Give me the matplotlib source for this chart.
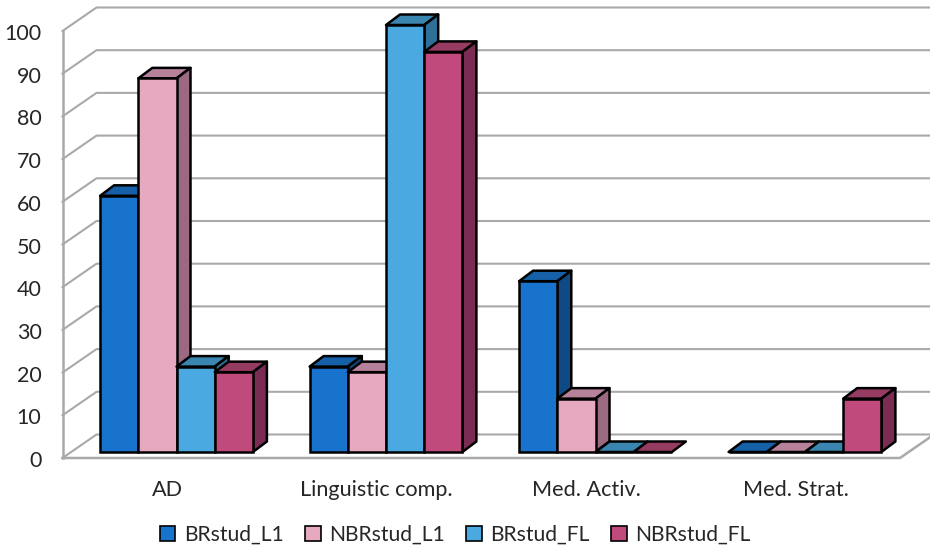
import matplotlib as mpl
mpl.use('Agg')
import matplotlib.pyplot as plt
from matplotlib.patches import Patch

plt.rcParams['font.family'] = ['Lato', 'DejaVu Sans']

categories = ["AD", "Linguistic comp.", "Med. Activ.", "Med. Strat."]
series = ["BRstud_L1", "NBRstud_L1", "BRstud_FL", "NBRstud_FL"]
br_l1 = [60, 20, 40, 0]
nbr_l1 = [87.5, 18.7, 12.5, 0]
br_fl = [20, 100, 0, 0]
nbr_fl = [18.7, 93.7, 0, 12.5]
values = [br_l1, nbr_l1, br_fl, nbr_fl]
y_ticks = list(range(0, 101, 10))

front = ['#1873CC', '#E6A9C0', '#4AA9E0', '#C04A7C']
top = ['#1660A8', '#B5819B', '#3A86B0', '#963B62']
side = ['#0F4A85', '#9B6A80', '#2F7099', '#7A2C52']

W, H = 930, 549
X_UNIT = 209.5   # px per category
Y_UNIT = 4.27    # px per value unit
X0, Y0 = 176.5, 452   # pixel of first group centre / bar base

bar_w = 38.2 / X_UNIT
depth_x, depth_y = 14 / X_UNIT, 10.5 / Y_UNIT
# walls sit a little in front of / behind the bars
front_y = -6 / Y_UNIT
wall_x, wall_y = 34 / X_UNIT, 23.5 / Y_UNIT
grid_c = '#A9A9A9'
text_c = '#262626'

fig = plt.figure(figsize=(W / 100, H / 100), dpi=100)
ax = fig.add_axes([0, 0, 1, 1])
ax.set_xlim(-X0 / X_UNIT, (W - X0) / X_UNIT)
ax.set_ylim((Y0 - H) / Y_UNIT, Y0 / Y_UNIT)
ax.axis('off')

# --------------------------
# Walls and floor
# --------------------------
left = (62.5 - X0) / X_UNIT
right = (900 - X0) / X_UNIT
for v in y_ticks:
    y = v + front_y
    ax.plot([left, left + wall_x, right + wall_x], [y, y + wall_y, y + wall_y],
            color=grid_c, lw=1.5, zorder=1)
    ax.text(left - 21 / X_UNIT, y - 9 / Y_UNIT, str(v), ha='right', va='baseline',
            fontsize=15.5, color=text_c)
ax.plot([left, left], [front_y, 100 + front_y], color=grid_c, lw=1.8, zorder=1)
ax.plot([left, right, right + wall_x], [front_y, front_y, front_y + wall_y],
        color=grid_c, lw=1.8, zorder=1)

# --------------------------
# Bars, left to right so they overlap properly
# --------------------------
for j, vals in enumerate(values):
    offset = (j - 1.5) * bar_w
    xs = [i + offset for i in range(len(categories))]
    for x, v in zip(xs, vals):
        x0, x1 = x - bar_w / 2, x + bar_w / 2
        ax.fill([x0, x0 + depth_x, x1 + depth_x, x1], [v, v + depth_y, v + depth_y, v],
                facecolor=top[j], edgecolor='black', lw=1.8, zorder=3 + j, joinstyle='round')
        if v > 0:
            ax.fill([x1, x1 + depth_x, x1 + depth_x, x1], [0, depth_y, v + depth_y, v],
                    facecolor=side[j], edgecolor='black', lw=1.8, zorder=3 + j, joinstyle='round')
    ax.bar(xs, vals, bar_w, color=front[j], edgecolor='black', lw=1.8, zorder=3 + j)

for i, name in enumerate(categories):
    ax.text(i - 9.5 / X_UNIT, (Y0 - 496.5) / Y_UNIT, name, ha='center', va='baseline',
            fontsize=15.6, color=text_c)

handles = [Patch(facecolor=front[j], edgecolor='black', lw=1.2, label=series[j])
           for j in range(len(series))]
leg = ax.legend(handles=handles, ncol=4, loc='center', frameon=False, fontsize=15.2,
                bbox_to_anchor=(455 / W, 1 - 535 / H), handlelength=0.75, handleheight=0.75,
                handletextpad=0.4, columnspacing=1.0, labelcolor=text_c)

fig.savefig('out.png', dpi=100)
